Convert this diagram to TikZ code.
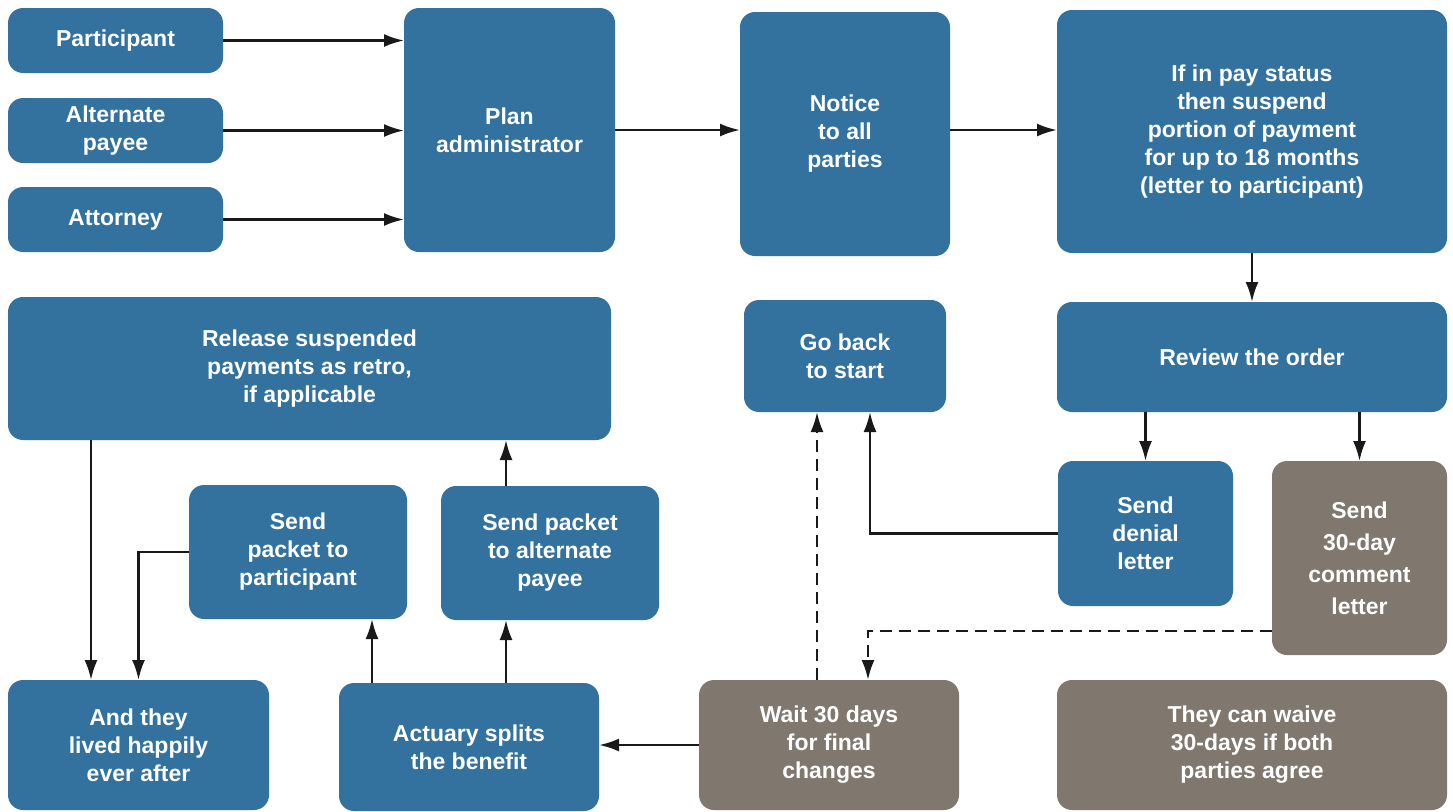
\documentclass[tikz,border=0pt]{standalone}
\usepackage{fontspec}
\setmainfont{Liberation Sans}
\usetikzlibrary{arrows.meta}

\definecolor{boxblue}{RGB}{51,114,159}
\definecolor{boxgray}{RGB}{128,119,110}

\begin{document}
\begin{tikzpicture}[
                        x=0.5pt,
                        y=-0.5pt,
                        >={Latex[length=10pt,width=6.5pt]},
                        line width=1.25pt,
                        color=black!90
                    ]
                    \tikzstyle{blok}=[rounded corners=7.5pt,fill=boxblue,text=white,align=center,inner sep=0pt,outer sep=0pt,
                                      font=\fontsize{11.5}{14}\selectfont\bfseries]
                    \tikzstyle{grey}=[blok,fill=boxgray]
                    \tikzstyle{wait}=[dash pattern=on 6pt off 3.5pt]

                    \clip (0,0) rectangle (1453,811);

                    % first row
                    \node[blok,minimum width=107.5pt,minimum height=32.5pt] (part)  at (115.5,40.5)  {Participant};
                    \node[blok,minimum width=107.5pt,minimum height=32.5pt] (alt)   at (115.5,130.5) {Alternate\\payee};
                    \node[blok,minimum width=107.5pt,minimum height=32.5pt] (atty)  at (115.5,219.5) {Attorney};
                    \node[blok,minimum width=105.5pt,minimum height=122pt]  (plan)  at (509.5,130)   {Plan\\administrator};
                    \node[blok,minimum width=105pt,minimum height=122pt]    (note)  at (845,134)     {Notice\\to all\\parties};
                    \node[blok,minimum width=195pt,minimum height=121.5pt]  (susp)  at (1252,131.5)  {If in pay status\\then suspend\\portion of payment\\for up to 18 months\\(letter to participant)};

                    % middle
                    \node[blok,minimum width=195pt,minimum height=55pt]     (review) at (1252,357)   {Review the order};
                    \node[blok,minimum width=101pt,minimum height=56pt]     (back)   at (845,356)    {Go back\\to start};
                    \node[blok,minimum width=301.5pt,minimum height=71.5pt] (retro)  at (309.5,368.5) {Release suspended\\payments as retro,\\if applicable};
                    \node[blok,minimum width=87.5pt,minimum height=72.5pt]  (deny)   at (1145.5,533.5) {Send\\denial\\letter};
                    \node[grey,minimum width=87.5pt,minimum height=97pt,
                          font=\fontsize{11.5}{16}\selectfont\bfseries]    (comment) at (1359.5,558) {Send\\30-day\\comment\\letter};
                    \node[blok,minimum width=109pt,minimum height=67pt]     (pkpart) at (298,552)    {Send\\packet to\\participant};
                    \node[blok,minimum width=109pt,minimum height=67pt]     (pkalt)  at (550,553)    {Send packet\\to alternate\\payee};

                    % last row
                    \node[blok,minimum width=130.5pt,minimum height=65pt]   (happy)  at (138.5,745)  {And they\\lived happily\\ever after};
                    \node[blok,minimum width=130pt,minimum height=64pt]     (split)  at (469,747)    {Actuary splits\\the benefit};
                    \node[grey,minimum width=130pt,minimum height=65pt]     (days)   at (829,745)    {Wait 30 days\\for final\\changes};
                    \node[grey,minimum width=195pt,minimum height=65pt]     (waive)  at (1252,745)   {They can waive\\30-days if both\\parties agree};

                    \path[->]
                    (part) edge (part -| plan.west)
                    (alt)  edge (alt -| plan.west)
                    (atty) edge (atty -| plan.west)
                    (plan) edge (plan -| note.west)
                    (note.east |- plan) edge (susp.west |- plan)
                    (susp) edge (review)
                    (review.south -| deny)    edge (deny)
                    (review.south -| comment) edge (comment)
                    (days) edge (days -| split.east);

                    \draw[->] (deny.west) -| ([xshift=12.5pt]back.south);
                    \draw[->,wait] ([yshift=-36.5pt]comment.west) -| ([xshift=19.5pt]days.north);
                    \draw[->,wait] ([xshift=-6pt]days.north) -- ([xshift=-6pt]days.north |- back.south);

                    \draw[->] ([xshift=-48.5pt]split.north) -- ([xshift=-48.5pt]split.north |- pkpart.south);
                    \draw[->] ([xshift=18.5pt]split.north) -- ([xshift=18.5pt]split.north |- pkalt.south);
                    \draw[->] ([xshift=-22pt]pkalt.north) -- ([xshift=-22pt]pkalt.north |- retro.south);
                    \draw[->] ([xshift=41.5pt]retro.south west) -- ([xshift=41.5pt]retro.south west |- happy.north);
                    \draw[->] (pkpart.west) -| (happy.north);

                \end{tikzpicture}
\end{document}
